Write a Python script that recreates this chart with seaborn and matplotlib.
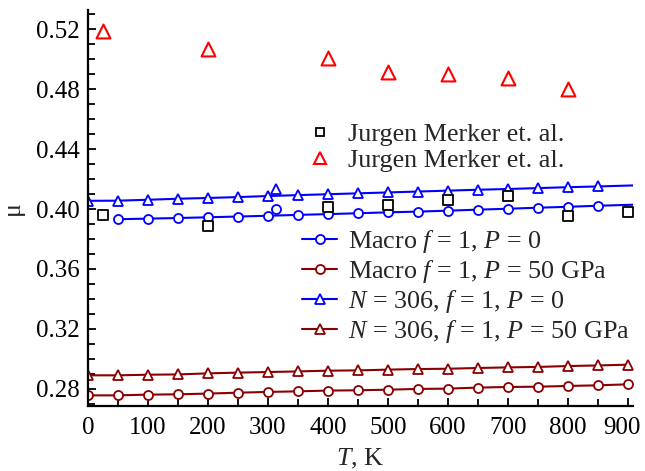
import numpy as np
import pandas as pd
import matplotlib
matplotlib.use("Agg")
import matplotlib.pyplot as plt
import matplotlib.transforms as mtransforms
import seaborn as sns
from matplotlib.ticker import MultipleLocator
from matplotlib.lines import Line2D

# ---------------- data ----------------
T_exp_sq = [25, 200, 400, 500, 600, 700, 800, 900]
mu_exp_sq = [0.396, 0.389, 0.4013, 0.4027, 0.4060, 0.4085, 0.3955, 0.3982]

T_exp_tri = [25, 200, 400, 500, 600, 700, 800]
mu_exp_tri = [0.5187, 0.5067, 0.5007, 0.4913, 0.4900, 0.4873, 0.4800]

T_macro0 = [50, 100, 150, 200, 250, 300, 350, 400, 450, 500, 550, 600, 650, 700, 750, 800, 850, 910]
mu_macro0 = [0.3932, 0.3936, 0.3940, 0.3945, 0.3950, 0.3955, 0.3961, 0.3966, 0.3972, 0.3978,
             0.3983, 0.3989, 0.3996, 0.4002, 0.4009, 0.4015, 0.4022, 0.4029]

T_n0 = [0, 50, 100, 150, 200, 250, 300, 350, 400, 450, 500, 550, 600, 650, 700, 750, 800, 850, 910]
mu_n0 = [0.4055, 0.4056, 0.4062, 0.4069, 0.4074, 0.4080, 0.4087, 0.4093, 0.4099, 0.4105,
         0.4111, 0.4117, 0.4123, 0.4129, 0.4134, 0.4140, 0.4146, 0.4151, 0.4158]

T_p50 = [0, 50, 100, 150, 200, 250, 300, 350, 400, 450, 500, 550, 600, 650, 700, 750, 800, 850, 900]
mu_macro50 = [0.2755, 0.2755, 0.2760, 0.2762, 0.2767, 0.2773, 0.2778, 0.2782, 0.2787, 0.2789,
              0.2793, 0.2798, 0.2800, 0.2807, 0.2811, 0.2813, 0.2818, 0.2822, 0.2829]
mu_n50 = [0.2889, 0.2889, 0.2893, 0.2895, 0.2902, 0.2907, 0.2911, 0.2915, 0.2920, 0.2922,
          0.2927, 0.2931, 0.2933, 0.2938, 0.2942, 0.2945, 0.2951, 0.2955, 0.2960]

T_extra = [314]
mu_extra_n0 = [0.4133]
mu_extra_macro0 = [0.4000]

labels_exp = ["Jurgen Merker et. al.", "Jurgen Merker et. al."]
labels_lines = [r"Macro $f$ = 1, $P$ = 0",
                r"Macro $f$ = 1, $P$ = 50 GPa",
                r"$N$ = 306, $f$ = 1, $P$ = 0",
                r"$N$ = 306, $f$ = 1, $P$ = 50 GPa"]

# ---------------- style ----------------
sns.set_style("ticks")
plt.rcParams["font.family"] = ["Liberation Serif", "DejaVu Serif"]
plt.rcParams["mathtext.fontset"] = "custom"
plt.rcParams["mathtext.rm"] = "Liberation Serif"
plt.rcParams["mathtext.it"] = "Liberation Serif:italic"
FS = 18.8
TFS = 18
plt.rcParams["font.size"] = FS

BLUE = "#0000ff"
DRED = "#8b0000"

fig = plt.figure(figsize=(6.45, 4.71), dpi=100)
ax = fig.add_axes([88/645, 1-405.7/471, (632.7-88)/645, (405.7-10)/471])

lw = 1.5
ms = 6.5

def line(x, y, color, marker, markevery=None):
    kw = dict(marker=marker, color=color, markerfacecolor="white", markeredgecolor=color,
              markeredgewidth=1.3, markersize=ms, linewidth=lw)
    if markevery is not None:
        kw["markevery"] = markevery
    sns.lineplot(x=x, y=y, ax=ax, **kw)

line(T_macro0, mu_macro0, BLUE, "o", markevery=list(range(len(T_macro0) - 1)))
line(T_p50, mu_macro50, DRED, "o")
line(T_n0, mu_n0, BLUE, "^", markevery=list(range(len(T_n0) - 1)))
line(T_p50, mu_n50, DRED, "^")

# extra points
ax.plot(T_extra, mu_extra_n0, linestyle="none", marker="^", markersize=ms,
        markerfacecolor="white", markeredgecolor=BLUE, markeredgewidth=1.3)
ax.plot(T_extra, mu_extra_macro0, linestyle="none", marker="o", markersize=ms,
        markerfacecolor="white", markeredgecolor=BLUE, markeredgewidth=1.3)

# experimental
sns.scatterplot(x=T_exp_sq, y=mu_exp_sq, ax=ax, marker="s", s=60,
                facecolor="white", edgecolor="black", linewidth=1.3, zorder=5)
sns.scatterplot(x=T_exp_tri, y=mu_exp_tri, ax=ax, marker="^", s=100,
                facecolor="white", edgecolor="red", linewidth=1.5, zorder=5)

ax.set_xlim(0, 908)
ax.set_ylim(0.2686, 0.533)
ax.xaxis.set_major_locator(MultipleLocator(100))
ax.xaxis.set_minor_locator(MultipleLocator(50))
ax.yaxis.set_major_locator(MultipleLocator(0.04))
ax.yaxis.set_minor_locator(MultipleLocator(0.01))
ax.yaxis.set_major_formatter(matplotlib.ticker.FormatStrFormatter("%.2f"))
ax.tick_params(which="both", direction="in", width=1.3, labelsize=TFS, colors="black")
ax.tick_params(which="major", length=6)
ax.tick_params(which="minor", length=5)
ax.tick_params(axis="x", pad=8)
ax.tick_params(axis="y", pad=6)
for s in ["top", "right"]:
    ax.spines[s].set_visible(False)
for s in ["left", "bottom"]:
    ax.spines[s].set_linewidth(1.6)
    ax.spines[s].set_color("black")

ax.set_xlabel(r"$T$, K", fontsize=FS, labelpad=6)
ax.set_ylabel("μ", fontsize=FS)
ax.yaxis.set_label_coords(-0.117, 0.5)

# nudge the last x tick label so it stays inside the figure
fig.canvas.draw()
xt = ax.get_xticklabels()
for lab in xt:
    if lab.get_text() == "900":
        lab.set_transform(lab.get_transform() +
                          mtransforms.ScaledTranslation(-6/100, 0, fig.dpi_scale_trans))

# legends
h_exp = [Line2D([], [], linestyle="none", marker="s", markersize=6, markerfacecolor="white",
                markeredgecolor="black", markeredgewidth=1.3),
         Line2D([], [], linestyle="none", marker="^", markersize=9, markerfacecolor="white",
                markeredgecolor="red", markeredgewidth=1.5)]
leg1 = fig.legend(h_exp, labels_exp, loc="center left", bbox_to_anchor=(302/645, 1-147.5/471),
                  frameon=False, fontsize=FS, borderpad=0, handlelength=1.35,
                  handletextpad=0.4, labelspacing=0.12, borderaxespad=0)
h_lines = [Line2D([], [], color=c, marker=m, markersize=ms, markerfacecolor="white",
                  markeredgecolor=c, markeredgewidth=1.3, linewidth=lw)
           for c, m in [(BLUE, "o"), (DRED, "o"), (BLUE, "^"), (DRED, "^")]]
leg2 = fig.legend(h_lines, labels_lines, loc="center left", bbox_to_anchor=(302/645, 1-286.5/471),
                  frameon=False, fontsize=FS, borderpad=0, handlelength=1.35,
                  handletextpad=0.4, labelspacing=0.12, borderaxespad=0)

fig.savefig("out.png", dpi=100)
